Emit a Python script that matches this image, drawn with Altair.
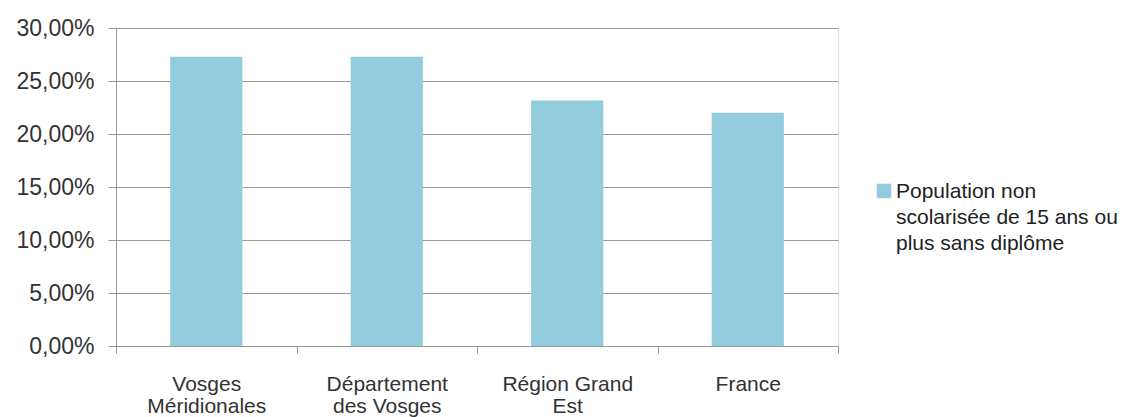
import altair as alt
import pandas as pd

categories = ["Vosges\nMéridionales", "Département\ndes Vosges", "Région Grand\nEst", "France"]
values = [0.2728, 0.2728, 0.2317, 0.2200]
series_name = "Population non\nscolarisée de 15 ans ou\nplus sans diplôme"
y_ticks = [0.0, 0.05, 0.10, 0.15, 0.20, 0.25, 0.30]

df = pd.DataFrame({"cat": categories, "val": values})
leg = pd.DataFrame({"name": [series_name]})

FONT = "Liberation Sans"
TXT = "#333333"
GRID = "#999999"

bars = alt.Chart(df).mark_bar(color="#93CDDD", width=alt.RelativeBandSize(0.4)).encode(
    x=alt.X(
        "cat:N",
        sort=categories,
        scale=alt.Scale(paddingInner=0, paddingOuter=0),
        axis=alt.Axis(
            title=None,
            labelAngle=0,
            labelExpr="split(datum.label, '\\n')",
            labelFont=FONT,
            labelFontSize=21,
            labelColor=TXT,
            labelLineHeight=22,
            labelPadding=20,
            labelBaseline="top",
            tickBand="extent",
            tickSize=7,
            tickColor=GRID,
            domainColor=GRID,
            grid=False,
        ),
    ),
    y=alt.Y(
        "val:Q",
        scale=alt.Scale(domain=[0, 0.30], nice=False),
        axis=alt.Axis(
            title=None,
            values=y_ticks,
            labelExpr="replace(format(datum.value, '.2%'), '.', ',')",
            labelFont=FONT,
            labelFontSize=23,
            labelColor=TXT,
            labelPadding=14,
            tickSize=8,
            tickColor=GRID,
            domainColor=GRID,
            gridColor=GRID,
            grid=True,
        ),
    ),
)

leg_sym = alt.Chart(leg).mark_square(size=210, color="#93CDDD", opacity=1).encode(
    x=alt.value(768), y=alt.value(163)
)
leg_txt = alt.Chart(leg).mark_text(
    align="left", baseline="alphabetic", font=FONT, fontSize=21,
    lineHeight=26, lineBreak="\n", color="#222222"
).encode(x=alt.value(780), y=alt.value(170), text="name:N")

chart = alt.layer(bars, leg_sym, leg_txt).properties(
    width=722,
    height=318,
    autosize=alt.AutoSizeParams(type="none"),
    padding={"left": 108, "top": 20, "right": 283, "bottom": 90},
).configure_view(stroke=None).configure(background="white")

chart.save("out.html", embed_options={"renderer": "svg", "actions": False})
